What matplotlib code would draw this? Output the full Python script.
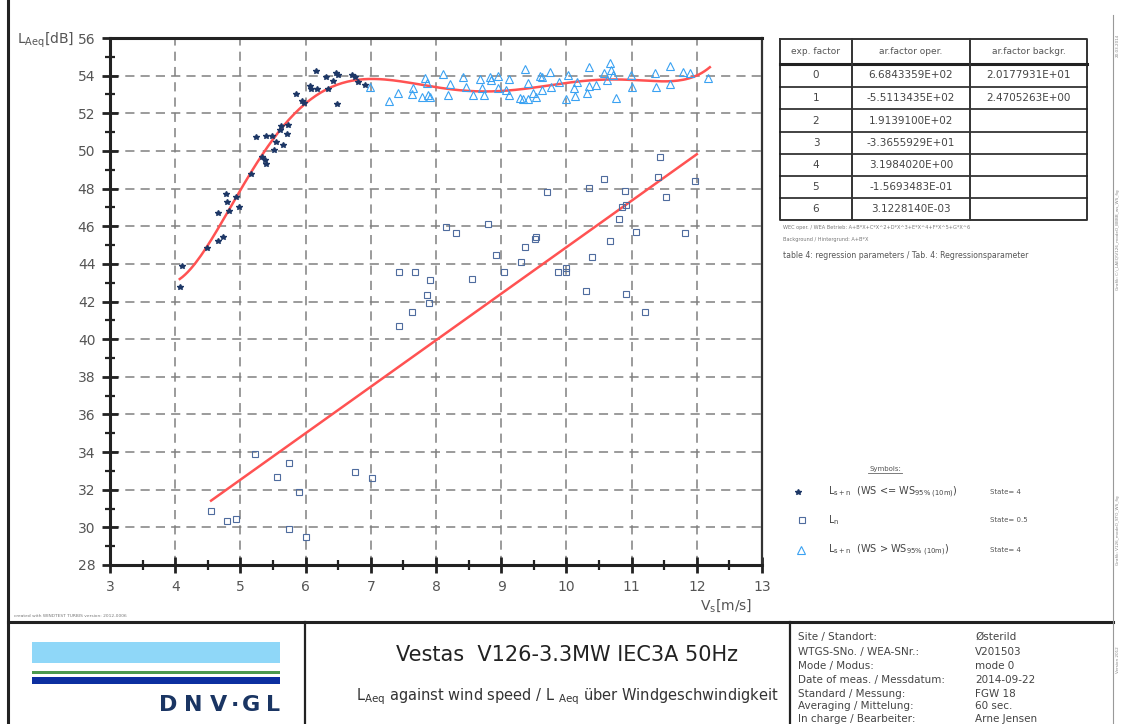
'''LAeq against wind speed - measurement report page
'''
import matplotlib
matplotlib.use('Agg')
import matplotlib.pyplot as plt
import numpy as np
from matplotlib.ticker import MultipleLocator

W, H = 1122, 724

# L_s+n, WS <= WS95% (10m)  (dark stars)
oper_ws = [4.07, 4.10, 4.49, 4.66, 4.73, 4.66, 4.78, 4.80, 4.83, 4.94, 4.98, 5.16, 5.24, 5.33,
           5.37, 5.39, 5.40, 5.48, 5.52, 5.55, 5.60, 5.62, 5.65, 5.72, 5.73, 5.86, 5.94, 5.97,
           6.06, 6.09, 6.16, 6.17, 6.32, 6.34, 6.42, 6.46, 6.48, 6.50, 6.71, 6.76, 6.80, 6.91]
oper_lev = [42.79, 43.90, 44.86, 45.21, 45.41, 46.72, 47.71, 47.30, 46.82, 47.57, 47.04, 48.77,
            50.72, 49.66, 49.52, 49.30, 50.81, 50.81, 50.05, 50.49, 51.11, 51.32, 50.31, 50.90,
            51.38, 53.02, 52.67, 52.53, 53.45, 53.29, 54.26, 53.27, 53.94, 53.27, 53.73, 54.12,
            52.49, 54.03, 54.03, 53.94, 53.68, 53.50]

# L_n background (open squares)
bg_ws = [4.55, 4.80, 4.93, 5.22, 5.56, 5.75, 5.75, 5.90, 6.00, 6.76, 7.02, 7.43, 7.43, 7.63,
         7.68, 7.86, 7.89, 7.91, 8.15, 8.31, 8.55, 8.80, 8.92, 9.04, 9.31, 9.37, 9.52, 9.54,
         9.70, 9.87, 9.99, 10.00, 10.30, 10.35, 10.40, 10.57, 10.67, 10.81, 10.85, 10.90,
         10.92, 10.91, 11.07, 11.20, 11.40, 11.44, 11.53, 11.82, 11.97]
bg_lev = [30.88, 30.34, 30.43, 33.90, 32.69, 33.43, 29.93, 31.89, 29.50, 32.92, 32.60, 40.70,
          43.57, 41.46, 43.58, 42.34, 41.94, 43.14, 45.94, 45.62, 43.19, 46.12, 44.47, 43.55,
          44.11, 44.88, 45.30, 45.44, 47.80, 43.55, 43.76, 43.58, 42.57, 48.01, 44.38, 48.49,
          45.23, 46.38, 47.00, 47.89, 47.13, 42.40, 45.68, 41.42, 48.63, 49.66, 47.57, 45.62,
          48.42]

# L_s+n, WS > WS95% (10m)  (open triangles)
high_ws = [6.99, 7.28, 7.41, 7.63, 7.65, 7.78, 7.83, 7.86, 7.88, 7.91, 8.10, 8.19, 8.22, 8.41,
           8.46, 8.57, 8.67, 8.70, 8.74, 8.83, 8.85, 8.95, 8.95, 9.08, 9.12, 9.12, 9.29, 9.37,
           9.34, 9.41, 9.41, 9.49, 9.53, 9.60, 9.62, 9.62, 9.75, 9.77, 9.88, 10.00, 10.03,
           10.11, 10.13, 10.16, 10.31, 10.34, 10.34, 10.46, 10.57, 10.62, 10.67, 10.69, 10.72,
           10.76, 10.99, 11.00, 11.36, 11.38, 11.59, 11.59, 11.79, 11.90, 12.17]
high_lev = [53.41, 52.65, 53.09, 53.01, 53.36, 52.88, 53.86, 53.59, 52.97, 52.88, 54.07, 52.97,
            53.54, 53.91, 53.41, 52.97, 53.80, 53.33, 52.97, 53.94, 53.77, 53.98, 53.33, 53.24,
            53.80, 52.97, 52.80, 54.34, 52.74, 52.74, 53.63, 53.09, 52.88, 53.98, 53.94, 53.24,
            54.21, 53.41, 53.68, 52.74, 54.03, 53.33, 52.92, 53.68, 53.06, 54.48, 53.45, 53.50,
            54.12, 53.77, 54.65, 54.30, 54.03, 52.83, 54.03, 53.41, 54.12, 53.41, 54.51, 53.54,
            54.21, 54.12, 53.86]

# table 4: regression parameters
exp_factors = ['0', '1', '2', '3', '4', '5', '6']
coef_oper = ['6.6843359E+02', '-5.5113435E+02', '1.9139100E+02', '-3.3655929E+01',
             '3.1984020E+00', '-1.5693483E-01', '3.1228140E-03']
coef_bg = ['2.0177931E+01', '2.4705263E+00', '', '', '', '', '']
oper_fit_range = (4.07, 12.2)
bg_fit_range = (4.55, 12.0)

info_keys = ['Site / Standort:', 'WTGS-SNo. / WEA-SNr.:', 'Mode / Modus:',
             'Date of meas. / Messdatum:', 'Standard / Messung:', 'Averaging / Mittelung:',
             'In charge / Bearbeiter:']
info_vals = ['Østerild', 'V201503', 'mode 0', '2014-09-22', 'FGW 18', '60 sec.', 'Arne Jensen']

RED = '#ff5252'
DARK = '#1d3766'
SQ = '#4f6c9e'
TRI = '#3aa2f2'
GREY = '#555555'

fig = plt.figure(figsize=(W / 100, H / 100), dpi=100)

# ---- main plot
ax = fig.add_axes([110 / W, 1 - 565 / H, (762 - 110) / W, (565 - 38) / H])
ax.set_xlim(3, 13)
ax.set_ylim(28, 56)

a_oper = [float(c) for c in coef_oper]
a_bg = [float(c) for c in coef_bg if c]
xo = np.linspace(*oper_fit_range, 200)
xb = np.linspace(*bg_fit_range, 50)
ax.plot(xo, np.polyval(a_oper[::-1], xo), color=RED, lw=1.8, zorder=3)
ax.plot(xb, np.polyval(a_bg[::-1], xb), color=RED, lw=1.8, zorder=3)

ax.plot(high_ws, high_lev, ls='none', marker='^', ms=5.5, mfc='none', mec=TRI, mew=0.8, zorder=4)
ax.plot(bg_ws, bg_lev, ls='none', marker='s', ms=4.2, mfc='none', mec=SQ, mew=0.8, zorder=4)
ax.plot(oper_ws, oper_lev, ls='none', marker='*', ms=4.3, color=DARK, zorder=5)

ax.xaxis.set_major_locator(MultipleLocator(1))
ax.xaxis.set_minor_locator(MultipleLocator(0.5))
ax.yaxis.set_major_locator(MultipleLocator(2))
ax.yaxis.set_minor_locator(MultipleLocator(1))
ax.tick_params(which='major', direction='inout', length=11, width=2, color='#222',
               labelcolor=GREY, labelsize=10, pad=5)
ax.tick_params(which='minor', direction='inout', length=7, width=1.6, color='#222')
ax.grid(which='major', linestyle=(0, (6, 4)), color='#808080', lw=1.1)
for s in ['left', 'bottom', 'top']:
    ax.spines[s].set_linewidth(2.2)
    ax.spines[s].set_color('#222')
ax.spines['right'].set_linewidth(1.6)
ax.spines['right'].set_color('#333')

# ---- page overlay
ov = fig.add_axes([0, 0, 1, 1])
ov.set_xlim(0, W)
ov.set_ylim(H, 0)
ov.axis('off')

ov.text(17, 40, r'L$_{\mathregular{Aeq}}$[dB]', fontsize=10, color=GREY, va='center')
ov.text(700, 606, r'V$_{\mathregular{s}}$[m/s]', fontsize=10, color=GREY, va='center')
ov.text(14, 616, 'created with WINDTEST TURBIS version: 2012-0006', fontsize=3.2, color='#777',
        va='center')

# frame lines
ov.plot([8, 8], [0, H], color='#222', lw=2.2)
ov.plot([8, 1113], [622, 622], color='#222', lw=2.2)
ov.plot([305, 305], [622, H], color='#222', lw=1.6)
ov.plot([790, 790], [622, H], color='#222', lw=1.6)
ov.plot([1113, 1113], [15, H], color='#999', lw=0.8)
ov.text(1118, 45, '20.03.2014', fontsize=3, color='#888', rotation=90, va='center', ha='center')
ov.text(1118, 240, 'Grafik: C:\\_LAEQ\\V126_modeO_BBBB_ws_WS_fig', fontsize=3, color='#888',
        rotation=90, va='center', ha='center')
ov.text(1118, 530, 'Grafik: V126_modeO_STO_WS_fig', fontsize=3, color='#888',
        rotation=90, va='center', ha='center')
ov.text(1118, 660, 'Version 2012', fontsize=3, color='#888', rotation=90, va='center', ha='center')

# regression table
rows_y = [39, 64, 87, 109, 132, 154, 176, 198, 220]
cols_x = [780, 852, 970, 1087]
ov.plot([cols_x[0], cols_x[-1], cols_x[-1], cols_x[0], cols_x[0]],
        [rows_y[0], rows_y[0], rows_y[-1], rows_y[-1], rows_y[0]], color='#333', lw=1.4)
for i, y in enumerate(rows_y[1:-1]):
    ov.plot([cols_x[0], cols_x[-1]], [y, y], color='#222', lw=2.2 if i == 0 else 1.2)
for x in cols_x[1:-1]:
    ov.plot([x, x], [rows_y[0], rows_y[-1]], color='#333', lw=1.4)
headers = ['exp. factor', 'ar.factor oper.', 'ar.factor backgr.']
for j, txt in enumerate(headers):
    ov.text((cols_x[j] + cols_x[j + 1]) / 2, (rows_y[0] + rows_y[1]) / 2, txt, fontsize=6.5,
            color='#555', ha='center', va='center')
for i in range(len(exp_factors)):
    yc = (rows_y[i + 1] + rows_y[i + 2]) / 2
    for j, txt in enumerate([exp_factors[i], coef_oper[i], coef_bg[i]]):
        ov.text((cols_x[j] + cols_x[j + 1]) / 2, yc, txt, fontsize=7.5, color='#444',
                ha='center', va='center')
ov.text(783, 227, 'WEC oper. / WEA Betrieb: A+B*X+C*X^2+D*X^3+E*X^4+F*X^5+G*X^6', fontsize=3.6,
        color='#777', va='center')
ov.text(783, 240, 'Background / Hintergrund: A+B*X', fontsize=3.6, color='#777', va='center')
ov.text(783, 255, 'table 4: regression parameters / Tab. 4: Regressionsparameter', fontsize=5.6,
        color='#555', va='center')

# symbols legend
ov.text(885, 469, 'Symbols:', fontsize=5, color='#555', ha='center', va='center')
ov.plot([868, 902], [473, 473], color='#666', lw=0.6)
ov.plot(798, 492, marker='*', ms=4.3, color=DARK)
ov.plot(802, 520, marker='s', ms=4.2, mfc='none', mec=SQ, mew=0.8)
ov.plot(801, 550, marker='^', ms=5.5, mfc='none', mec=TRI, mew=0.8)
ov.text(828, 492, r'L$_{\mathregular{s+n}}$  (WS <= WS$_{\mathregular{95\%\ (10m)}}$)',
        fontsize=7, color='#444', va='center')
ov.text(828, 520, r'L$_{\mathregular{n}}$', fontsize=7, color='#444', va='center')
ov.text(828, 550, r'L$_{\mathregular{s+n}}$  (WS > WS$_{\mathregular{95\%\ (10m)}}$)',
        fontsize=7, color='#444', va='center')
for y, st in zip([492, 520, 550], ['State= 4', 'State= 0.5', 'State= 4']):
    ov.text(990, y, st, fontsize=5, color='#555', va='center')

# title block: logo
ov.add_patch(plt.Rectangle((32, 642), 248, 21, color='#8fd7f8', lw=0))
ov.add_patch(plt.Rectangle((32, 671), 248, 2.5, color='#4b9a4f', lw=0))
ov.add_patch(plt.Rectangle((32, 677), 248, 7, color='#0c2fa0', lw=0))
logo_x = [168, 193, 219, 235, 251, 273]
for ch, x in zip('DNV·GL', logo_x):
    ov.text(x, 705, ch, fontsize=16, fontweight='bold', color='#1a3563',
            ha='center', va='center')

ov.text(567, 655, 'Vestas  V126-3.3MW IEC3A 50Hz', fontsize=15, color='#222',
        ha='center', va='center')
ov.text(567, 697, r'L$_{\mathregular{Aeq}}$ against wind speed / L $_{\mathregular{Aeq}}$ über Windgeschwindigkeit',
        fontsize=10.5, color='#333', ha='center', va='center')

info_y = [637, 652, 666, 680, 694, 706, 719]
for y, k, v in zip(info_y, info_keys, info_vals):
    ov.text(798, y, k, fontsize=7.5, color='#444', va='center')
    ov.text(975, y, v, fontsize=7.5, color='#444', va='center')

fig.savefig('out.png', dpi=100)
